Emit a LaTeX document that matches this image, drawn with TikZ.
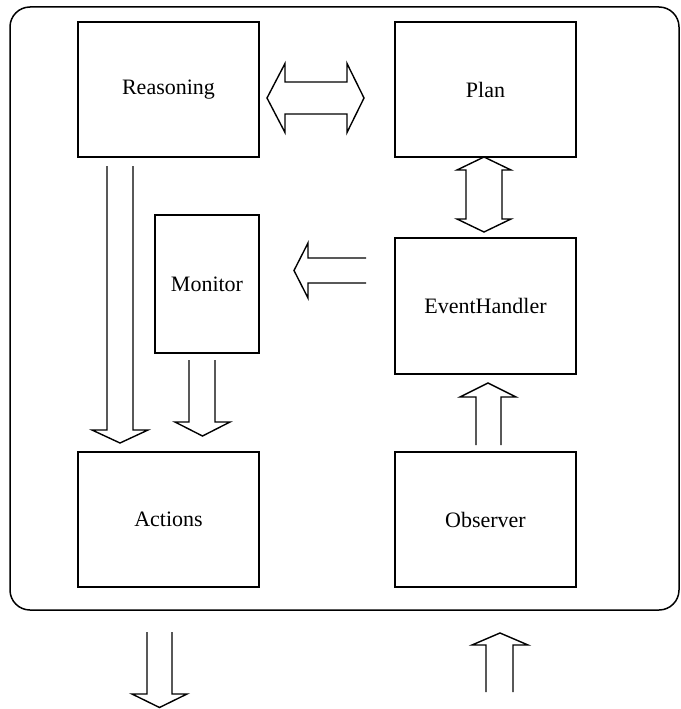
\documentclass[tikz,border=0pt]{standalone}
\usepackage{fontspec}
\setmainfont{Liberation Serif}
\begin{document}
\begin{tikzpicture}[x=1pt,y=-1pt,
  block/.style={draw, line width=1.5pt, rectangle, inner sep=0pt,
    minimum width=181pt, minimum height=135pt, font=\fontsize{22}{26}\selectfont},
  blockarrow/.style={draw, line width=1.4pt, line join=miter, fill=white}]
  \useasboundingbox (0,0) rectangle (680,709);

  % enclosing frame
  \draw[line width=1.5pt, rounded corners=20pt] (10,7) rectangle (679,610);

  % components
  \node[block] (reasoning) at (168.5,89.5) {Reasoning};
  \node[block] (plan) at (485.5,89.5) {Plan};
  \node[block, minimum width=104pt, minimum height=138pt] (monitor) at (207,284) {Monitor};
  \node[block, minimum height=136pt] (eventhandler) at (485.5,306) {EventHandler};
  \node[block] (actions) at (168.5,519.5) {Actions};
  \node[block] (observer) at (485.5,519.5) {Observer};

  % Reasoning <-> Plan
  \draw[blockarrow] (267,98) -- (285,63.5) -- (285,82) -- (347,82) -- (347,63.5)
    -- (364,98) -- (347,132.5) -- (347,114) -- (285,114) -- (285,132.5) -- cycle;

  % Plan <-> EventHandler
  \draw[blockarrow] (484,157) -- (511,170) -- (502,170) -- (502,219) -- (511,219)
    -- (484,232) -- (457,219) -- (466,219) -- (466,170) -- (457,170) -- cycle;

  % EventHandler -> Monitor
  \draw[blockarrow] (366,258) -- (308,258) -- (308,243) -- (294,270.5)
    -- (308,298) -- (308,283) -- (366,283);

  % Reasoning -> Actions
  \draw[blockarrow] (107,166) -- (107,430) -- (92,430) -- (120,443)
    -- (148,430) -- (133,430) -- (133,166);

  % Monitor -> Actions
  \draw[blockarrow] (189,360) -- (189,422) -- (175,422) -- (202.5,436)
    -- (230,422) -- (215,422) -- (215,360);

  % Observer -> EventHandler
  \draw[blockarrow] (476,445) -- (476,397) -- (460,397) -- (488,383)
    -- (516,397) -- (501,397) -- (501,445);

  % output leaving the frame
  \draw[blockarrow] (147,632) -- (147,694) -- (132,694) -- (159.5,707.5)
    -- (187,694) -- (172,694) -- (172,632);

  % input entering the frame
  \draw[blockarrow] (486,692) -- (486,645) -- (472,645) -- (500,633)
    -- (528,645) -- (513,645) -- (513,692);
\end{tikzpicture}
\end{document}
